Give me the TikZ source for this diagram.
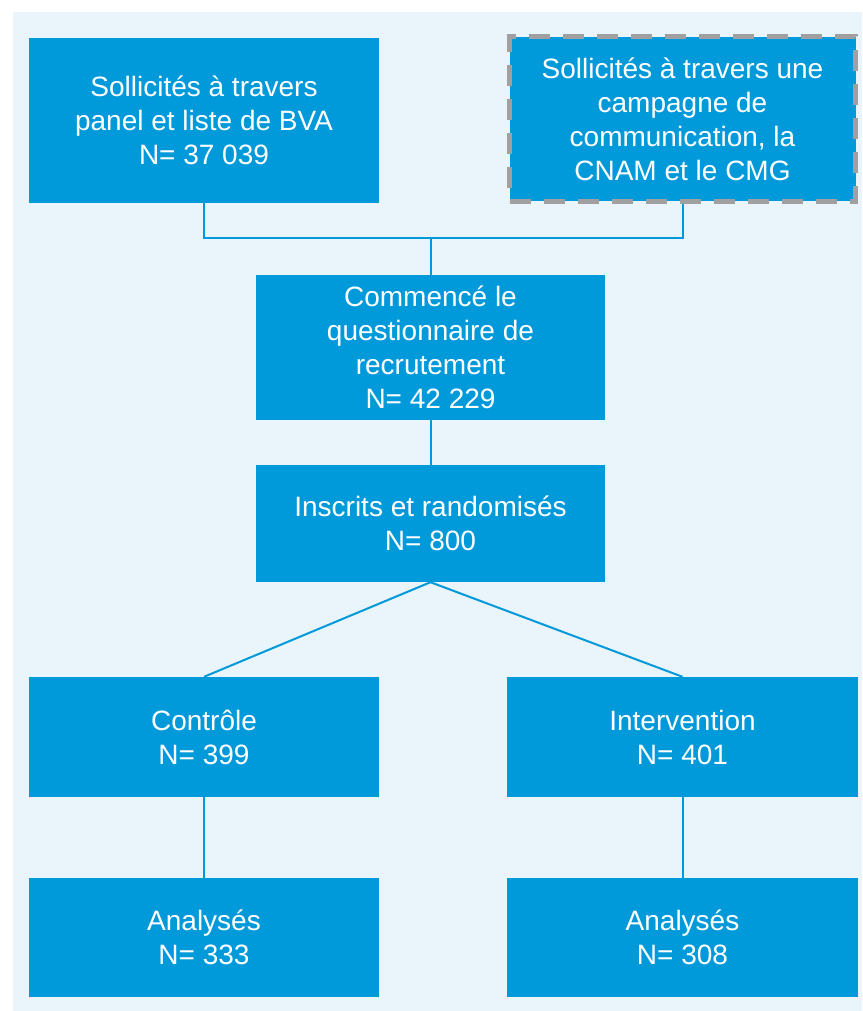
\documentclass[tikz,border=0pt]{standalone}
\usepackage{fontspec}
\setmainfont{Liberation Sans}
\definecolor{boxblue}{RGB}{0,153,218}
\definecolor{bgblue}{RGB}{234,244,251}
\definecolor{dashgray}{RGB}{160,160,160}
\begin{document}
\begin{tikzpicture}[x=1pt,y=-1pt,
  stepbox/.style={rectangle, fill=boxblue, text=white, inner sep=0pt, align=center,
    minimum width=350pt, font=\fontsize{28}{34}\selectfont},
  dashbox/.style={stepbox, draw=dashgray, line width=5pt, dash pattern=on 21pt off 13pt},
  link/.style={draw=boxblue, line width=2pt}]
\useasboundingbox (0,0) rectangle (862,1011);
\fill[bgblue] (13,12) rectangle (862,1011);
\node[stepbox, minimum height=165pt] (b1) at (204,120.5) {Sollicités à travers\\panel et liste de BVA\\N= 37 039};
\node[dashbox, minimum width=346pt, minimum height=164pt] (b2) at (682.5,119) {Sollicités à travers une\\campagne de\\communication, la\\CNAM et le CMG};
\node[stepbox, minimum width=349pt, minimum height=145pt] (b3) at (430.5,347.5) {Commencé le\\questionnaire de\\recrutement\\N= 42 229};
\node[stepbox, minimum width=349pt, minimum height=117pt] (b4) at (430.5,523.5) {Inscrits et randomisés\\N= 800};
\node[stepbox, minimum height=120pt] (b5) at (204,737) {Contrôle\\N= 399};
\node[stepbox, minimum width=351pt, minimum height=120pt] (b6) at (682.5,737) {Intervention\\N= 401};
\node[stepbox, minimum height=119pt] (b7) at (204,937.5) {Analysés\\N= 333};
\node[stepbox, minimum width=351pt, minimum height=119pt] (b8) at (682.5,937.5) {Analysés\\N= 308};
\coordinate (j) at (430.5,238);
\draw[link] (b1.south) |- (j);
\draw[link] (b2.south) |- (j);
\draw[link] (j) -- (b3.north);
\draw[link] (b3.south) -- (b4.north);
\draw[link] (b4.south) -- (b5.north);
\draw[link] (b4.south) -- (b6.north);
\draw[link] (b5.south) -- (b7.north);
\draw[link] (b6.south) -- (b8.north);
\end{tikzpicture}
\end{document}
